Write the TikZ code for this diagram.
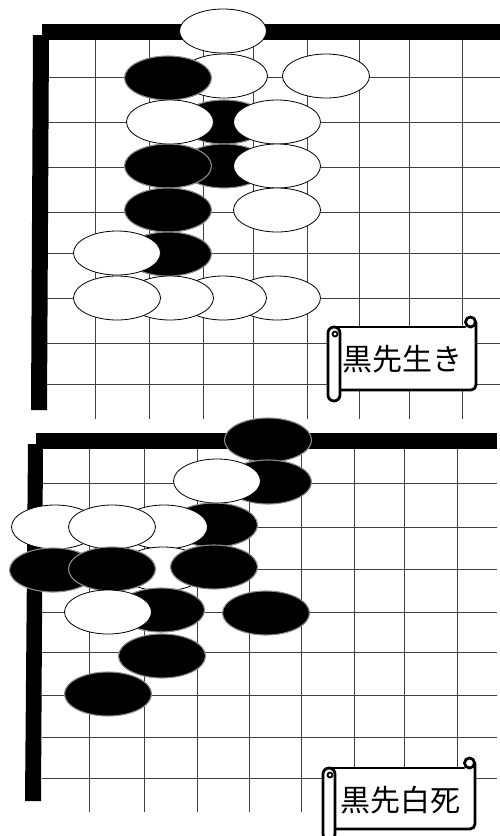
\documentclass[tikz,border=0pt]{standalone}
\usepackage{fontspec}
\newfontfamily\cjk{Noto Sans CJK JP}
\usetikzlibrary{shapes.geometric}
\tikzset{
 gridline/.style={black!75, line width=0.9pt},
 wst/.style={ellipse, draw=black, line width=0.8pt, fill=white, minimum width=87pt, minimum height=44pt, inner sep=0pt},
 bst/.style={ellipse, draw=black!45, line width=1.1pt, fill=black, minimum width=87pt, minimum height=44pt, inner sep=0pt},
 scrl/.style={line width=2.8pt, line join=round, line cap=round},
 lab/.style={font=\cjk\fontsize{30}{30}\selectfont, inner sep=0pt}
}
\newcommand\myscroll[3]{%
 \fill[white] (0,#2) rectangle (#1,#3);
 \fill[white] (0,#2) rectangle (12,{#3+11});
 \draw[scrl] (6,#2) -- ({#1-11},#2);
 \draw[scrl] ({#1-5.5},{#2-5}) circle[radius=5pt];
 \draw[scrl] (#1,{#2-5}) -- (#1,{#3-5}) arc[start angle=0,end angle=-90,radius=5pt] -- (12,#3);
 \draw[scrl,fill=white] (0,{#2+6}) arc[start angle=180,end angle=0,radius=6pt] -- (12,{#3+5}) arc[start angle=0,end angle=-180,radius=6pt] -- cycle;
 \draw[scrl,line width=1.8pt] (7,{#2+7}) circle[radius=2.5pt];
}
\begin{document}
\begin{tikzpicture}[x=1pt,y=-1pt]
\useasboundingbox (0,0) rectangle (500,836);
\clip (0,0) rectangle (500,836);
% ---------- top board ----------
\foreach \x in {95,149,203,253,307,359,409,462} \draw[gridline] (\x,40) -- (\x,419);
\foreach \y in {77,122,167,212,253,298,343,384} \draw[gridline] (47,\y) -- (500,\y);
\fill (42,24) rectangle (500,40);
\fill (33,35) -- (49,35) -- (47,410) -- (31,410) -- cycle;
\node[wst] (t1) at (223,31) {};
\node[wst] (t2) at (224,76) {};
\node[bst] (t3) at (168,78) {};
\node[wst] (t4) at (326,76) {};
\node[bst] (t5) at (224,122) {};
\node[bst] (t6) at (224,166) {};
\node[wst] (t7) at (170,122) {};
\node[wst] (t8) at (277,122) {};
\node[bst] (t9) at (168,166) {};
\node[wst] (t10) at (277,166) {};
\node[bst] (t11) at (168,210) {};
\node[wst] (t12) at (277,210) {};
\node[bst] (t13) at (168,254) {};
\node[wst] (t14) at (117,253) {};
\node[wst] (t15) at (277,298) {};
\node[wst] (t16) at (223,298) {};
\node[wst] (t17) at (170,298) {};
\node[wst] (t18) at (117,298) {};
\begin{scope}[shift={(328,316)}]
 \myscroll{148}{11}{74}
\end{scope}
\node[lab] (lab1) at (402,359) {黒先生き};
% ---------- bottom board ----------
\foreach \x in {89,144,197,249,301,354,404,457} \draw[gridline] (\x,449) -- (\x,812);
\foreach \y in {483,527,569,612,652,695,737,778} \draw[gridline] (42,\y) -- (497,\y);
\fill (36,433) rectangle (497,449);
\fill (28,444) -- (43,444) -- (41,801) -- (25,801) -- cycle;
\node[bst] (b1) at (268,440) {};
\node[bst] (b2) at (268,482) {};
\node[wst] (b3) at (217,481) {};
\node[bst] (b4) at (214,525) {};
\node[wst] (b5) at (164,527) {};
\node[wst] (b6) at (55,527) {};
\node[wst] (b7) at (112,527) {};
\node[wst] (b8) at (163,569) {};
\node[bst] (b9) at (53,570) {};
\node[bst] (b10) at (112,569) {};
\node[bst] (b11) at (214,567) {};
\node[bst] (b12) at (161,610) {};
\node[wst] (b13) at (108,612) {};
\node[bst] (b14) at (266,613) {};
\node[bst] (b15) at (162,656) {};
\node[bst] (b16) at (108,694) {};
\begin{scope}[shift={(323,758)}]
 \myscroll{152}{10}{71}
\end{scope}
\node[lab] (lab2) at (400,800) {黒先白死};
\end{tikzpicture}
\end{document}
